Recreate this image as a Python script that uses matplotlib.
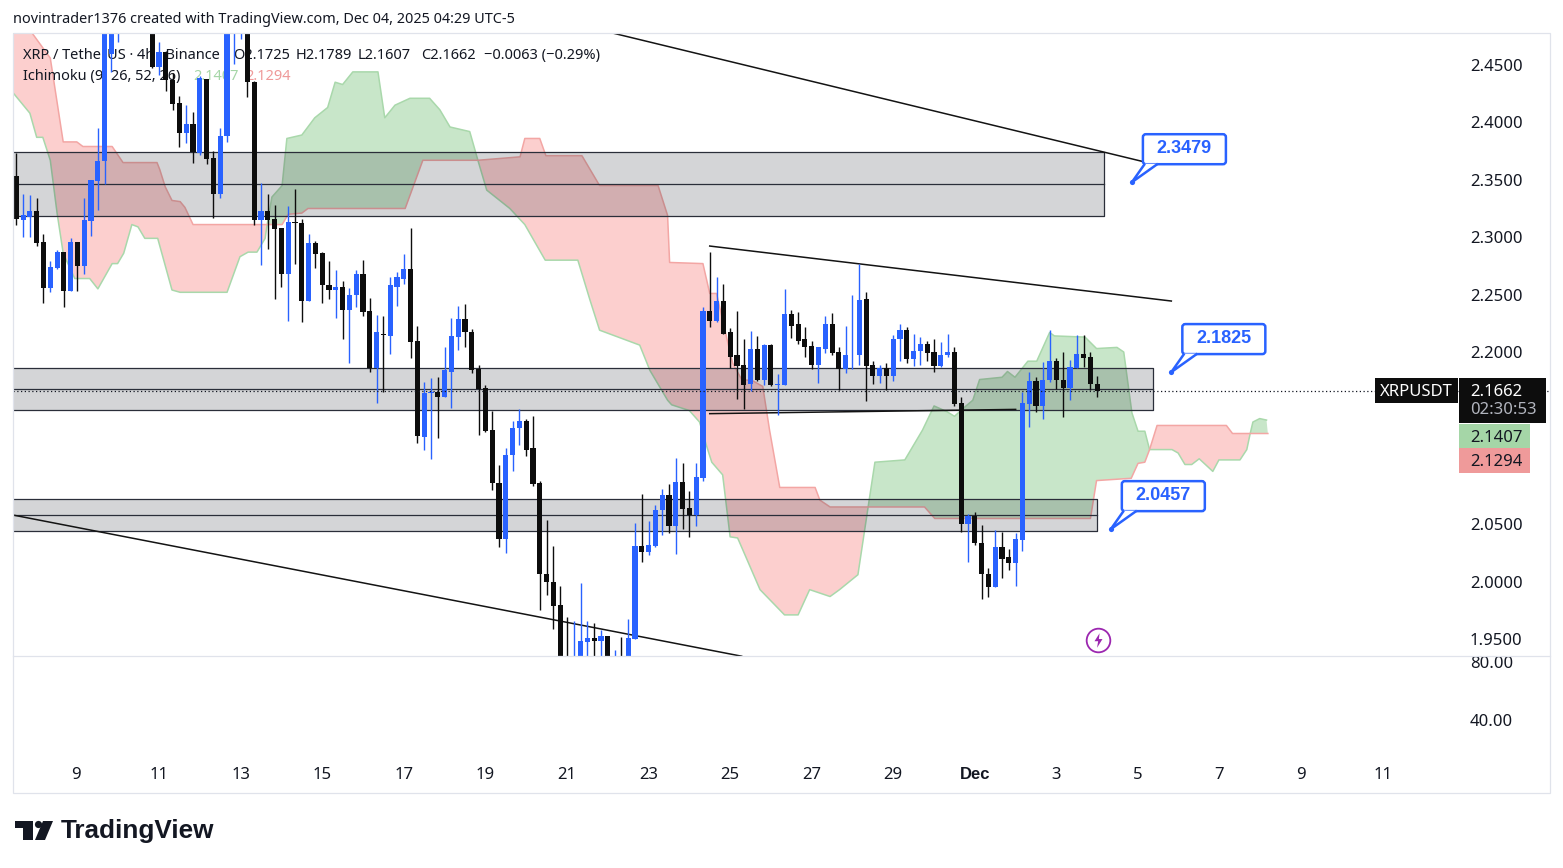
import matplotlib
matplotlib.use('Agg')
import matplotlib.pyplot as plt
import numpy as np
from matplotlib.patches import FancyBboxPatch, Polygon, Rectangle
from matplotlib.transforms import IdentityTransform

# 4h candles, bar 0 is the first one on screen
opens = [2.353, 2.315, 2.318, 2.323, 2.296, 2.256, 2.273, 2.287, 2.253, 2.296,
         2.275, 2.314, 2.349, 2.366, 2.460, 2.49, 2.51, 2.53, 2.51, 2.52,
         2.50, 2.448, 2.461, 2.437, 2.417, 2.391, 2.399, 2.373, 2.438, 2.369,
         2.338, 2.388, 2.485, 2.49, 2.50, 2.435, 2.315, 2.323, 2.316, 2.308,
         2.268, 2.313, 2.312, 2.244, 2.295, 2.286, 2.258, 2.254, 2.257, 2.237,
         2.250, 2.268, 2.236, 2.186, 2.216, 2.214, 2.257, 2.264, 2.272, 2.210,
         2.126, 2.164, 2.165, 2.161, 2.183, 2.213, 2.229, 2.217, 2.185, 2.169,
         2.132, 2.086, 2.037, 2.110, 2.134, 2.140, 2.116, 2.086, 2.007, 2.000,
         1.980, 1.930, 1.920, 1.925, 1.947, 1.951, 1.948, 1.953, 1.920, 1.930,
         1.925, 1.950, 2.031, 2.026, 2.031, 2.062, 2.075, 2.048, 2.087, 2.064,
         2.058, 2.090, 2.236, 2.227, 2.244, 2.217, 2.197, 2.189, 2.172, 2.203,
         2.176, 2.206, 2.171, 2.171, 2.233, 2.224, 2.211, 2.205, 2.189, 2.203,
         2.224, 2.200, 2.185, 2.197, 2.197, 2.246, 2.189, 2.179, 2.186, 2.179,
         2.211, 2.219, 2.194, 2.201, 2.207, 2.200, 2.188, 2.197, 2.200, 2.156,
         2.050, 2.057, 2.034, 2.007, 1.995, 2.030, 2.021, 2.016, 2.036, 2.155,
         2.175, 2.153, 2.176, 2.192, 2.176, 2.169, 2.186, 2.198, 2.196, 2.1725]
highs = [2.373, 2.338, 2.337, 2.334, 2.303, 2.279, 2.289, 2.287, 2.299, 2.296,
         2.334, 2.350, 2.395, 2.50, 2.53, 2.52, 2.54, 2.55, 2.53, 2.53,
         2.52, 2.470, 2.462, 2.443, 2.423, 2.415, 2.409, 2.440, 2.438, 2.375,
         2.395, 2.50, 2.51, 2.51, 2.51, 2.436, 2.347, 2.338, 2.328, 2.308,
         2.327, 2.342, 2.316, 2.303, 2.297, 2.287, 2.279, 2.271, 2.262, 2.256,
         2.271, 2.280, 2.247, 2.232, 2.231, 2.265, 2.270, 2.285, 2.308, 2.223,
         2.174, 2.177, 2.178, 2.204, 2.230, 2.240, 2.242, 2.220, 2.189, 2.171,
         2.149, 2.102, 2.116, 2.140, 2.150, 2.142, 2.144, 2.088, 2.054, 2.031,
         1.996, 1.969, 1.966, 1.999, 1.966, 1.964, 1.958, 1.953, 1.940, 1.952,
         1.967, 2.051, 2.076, 2.053, 2.067, 2.081, 2.085, 2.108, 2.103, 2.079,
         2.103, 2.2395, 2.287, 2.265, 2.259, 2.221, 2.236, 2.211, 2.218, 2.214,
         2.207, 2.207, 2.181, 2.255, 2.237, 2.235, 2.222, 2.210, 2.204, 2.231,
         2.234, 2.204, 2.223, 2.250, 2.277, 2.252, 2.192, 2.189, 2.190, 2.215,
         2.224, 2.222, 2.216, 2.213, 2.210, 2.211, 2.209, 2.216, 2.204, 2.161,
         2.059, 2.061, 2.049, 2.012, 2.045, 2.043, 2.028, 2.042, 2.165, 2.183,
         2.178, 2.191, 2.219, 2.195, 2.200, 2.193, 2.215, 2.215, 2.200, 2.1789]
lows = [2.311, 2.300, 2.300, 2.292, 2.243, 2.252, 2.272, 2.239, 2.253, 2.253,
        2.268, 2.301, 2.324, 2.346, 2.444, 2.470, 2.49, 2.50, 2.495, 2.49,
        2.447, 2.441, 2.427, 2.411, 2.379, 2.382, 2.365, 2.372, 2.364, 2.317,
        2.334, 2.383, 2.451, 2.473, 2.422, 2.311, 2.276, 2.290, 2.246, 2.257,
        2.227, 2.277, 2.226, 2.244, 2.273, 2.243, 2.246, 2.230, 2.211, 2.190,
        2.239, 2.231, 2.183, 2.156, 2.165, 2.198, 2.240, 2.259, 2.195, 2.121,
        2.115, 2.107, 2.125, 2.161, 2.151, 2.202, 2.204, 2.182, 2.128, 2.130,
        2.080, 2.030, 2.025, 2.096, 2.119, 2.109, 2.083, 1.975, 1.988, 1.959,
        1.92, 1.91, 1.91, 1.92, 1.925, 1.925, 1.925, 1.92, 1.91, 1.915,
        1.92, 1.950, 2.017, 2.023, 2.030, 2.041, 2.042, 2.024, 2.046, 2.039,
        2.048, 2.088, 2.222, 2.226, 2.216, 2.186, 2.159, 2.150, 2.166, 2.175,
        2.171, 2.170, 2.145, 2.171, 2.212, 2.207, 2.196, 2.185, 2.173, 2.199,
        2.197, 2.167, 2.182, 2.185, 2.189, 2.157, 2.172, 2.173, 2.167, 2.175,
        2.192, 2.190, 2.188, 2.189, 2.192, 2.183, 2.187, 2.196, 2.153, 2.043,
        2.017, 2.032, 1.985, 1.987, 1.995, 2.003, 2.010, 1.996, 2.027, 2.135,
        2.148, 2.142, 2.174, 2.168, 2.143, 2.158, 2.186, 2.187, 2.167, 2.1607]
closes = [2.316, 2.319, 2.323, 2.295, 2.256, 2.274, 2.287, 2.253, 2.296, 2.275,
          2.315, 2.350, 2.366, 2.488, 2.52, 2.51, 2.53, 2.51, 2.52, 2.50,
          2.448, 2.461, 2.437, 2.416, 2.391, 2.399, 2.374, 2.439, 2.368, 2.338,
          2.388, 2.49, 2.50, 2.50, 2.435, 2.315, 2.323, 2.315, 2.307, 2.268,
          2.313, 2.312, 2.244, 2.295, 2.285, 2.258, 2.254, 2.257, 2.237, 2.250,
          2.268, 2.235, 2.186, 2.217, 2.215, 2.258, 2.265, 2.272, 2.209, 2.127,
          2.164, 2.165, 2.161, 2.184, 2.214, 2.229, 2.217, 2.184, 2.168, 2.131,
          2.086, 2.037, 2.110, 2.134, 2.140, 2.115, 2.085, 2.007, 2.000, 1.979,
          1.93, 1.92, 1.93, 1.948, 1.951, 1.948, 1.953, 1.925, 1.93, 1.92,
          1.951, 2.031, 2.026, 2.032, 2.062, 2.075, 2.048, 2.087, 2.063, 2.058,
          2.091, 2.236, 2.227, 2.244, 2.216, 2.196, 2.188, 2.171, 2.203, 2.176,
          2.206, 2.171, 2.172, 2.233, 2.223, 2.210, 2.204, 2.189, 2.204, 2.224,
          2.199, 2.185, 2.197, 2.1975, 2.245, 2.188, 2.179, 2.186, 2.179, 2.211,
          2.219, 2.194, 2.201, 2.207, 2.199, 2.188, 2.197, 2.200, 2.155, 2.050,
          2.057, 2.034, 2.007, 1.995, 2.030, 2.020, 2.016, 2.037, 2.156, 2.175,
          2.153, 2.176, 2.192, 2.176, 2.169, 2.187, 2.198, 2.195, 2.172, 2.1662]

# ichimoku cloud edges, read at the corners of each line
span_a_bar = [-0.5, 2, 3, 3.9, 5, 6, 6.9, 8.6, 10.8, 12, 14.1, 14.9, 15.8, 17, 17.9, 18.9, 20.8,
              22.9, 24.1, 31, 32.9, 34.1, 35.4, 36.6, 36.9, 37.6, 39.1, 39.8, 42, 43.9, 45.8,
              46.9, 48, 49.5, 53.2, 54.2, 55.7, 57.9, 60.8, 62.3, 63.8, 66.7, 67.9, 69.2, 72.6,
              74.8, 77.8, 82.6, 84.4, 85.8, 91.7, 93.2, 95.8, 96.4, 99, 100.5, 101.6, 102.3,
              103.9, 105, 106.1, 106.4, 109.4, 113, 115, 116.7, 119.7, 121.1, 123.8, 125.3,
              126.3, 130.7, 133.3, 135, 136.9, 138, 139.5, 140.7, 141.7, 145, 145.8, 146.9,
              148.8, 150.1, 152, 152.7, 157.2, 158.9, 161.9, 162.9, 164.1, 165, 166, 166.7,
              170, 170.9, 171.9, 172.9, 174, 176, 176.9, 180, 181, 181.5, 181.9, 182.9, 183.9]
span_a = [2.426, 2.408, 2.387, 2.387, 2.367, 2.321, 2.286, 2.264, 2.264, 2.255, 2.277, 2.277,
          2.286, 2.311, 2.309, 2.299, 2.299, 2.254, 2.252, 2.252, 2.283, 2.287, 2.287, 2.299,
          2.311, 2.335, 2.345, 2.386, 2.389, 2.404, 2.413, 2.435, 2.433, 2.444, 2.444, 2.404,
          2.415, 2.421, 2.421, 2.411, 2.396, 2.392, 2.367, 2.341, 2.325, 2.311, 2.280, 2.280,
          2.245, 2.219, 2.206, 2.184, 2.158, 2.154, 2.149, 2.139, 2.117, 2.104, 2.093, 2.039,
          2.038, 2.034, 1.993, 1.971, 1.971, 1.993, 1.987, 1.993, 2.006, 2.065, 2.104, 2.106,
          2.132, 2.153, 2.148, 2.144, 2.152, 2.158, 2.176, 2.178, 2.183, 2.178, 2.192, 2.192,
          2.217, 2.214, 2.213, 2.203, 2.204, 2.200, 2.147, 2.131, 2.131, 2.115, 2.115, 2.112,
          2.102, 2.102, 2.107, 2.096, 2.106, 2.106, 2.115, 2.129, 2.139, 2.142, 2.1407]
span_b_bar = [-1, 2.3, 5, 6.9, 8.9, 9.8, 14.1, 15.7, 20.7, 21.1, 21.9, 22.9, 24.1, 24.8, 26,
              36.9, 39.1, 40, 42, 42.9, 57.2, 59.8, 67.9, 74.1, 74.8, 77, 77.9, 83.2, 85.8,
              94.4, 95.8, 96.1, 101, 102, 103, 104.9, 105.4, 106.7, 108.3, 109.8, 110.8, 112.3,
              117.5, 118.2, 119.7, 125.3, 133.6, 135.1, 158, 158.9, 164, 165, 166, 166.7, 167.8,
              178, 178.9, 181.5, 184.1]
span_b = [2.52, 2.478, 2.456, 2.383, 2.383, 2.379, 2.379, 2.365, 2.365, 2.359, 2.344, 2.332,
          2.331, 2.326, 2.311, 2.311, 2.311, 2.320, 2.321, 2.325, 2.325, 2.367, 2.367, 2.370,
          2.386, 2.386, 2.371, 2.371, 2.345, 2.345, 2.319, 2.278, 2.277, 2.251, 2.251, 2.202,
          2.190, 2.176, 2.175, 2.170, 2.132, 2.082, 2.082, 2.071, 2.065, 2.065, 2.065, 2.055,
          2.055, 2.088, 2.090, 2.103, 2.104, 2.115, 2.136, 2.136, 2.129, 2.129, 2.129]
# bars where the two edges cross, the cloud colour flips there
cloud_cross = [-1, 36.9, 67.9, 125.3, 166.7, 181.5, 184.1]

zone_top = [2.374, 2.186, 2.072]
zone_mid = [2.346, 2.168, 2.058]
zone_bottom = [2.3185, 2.1495, 2.044]
zone_end = [160, 167.2, 158.9]

# trend lines: start bar, start price, end bar, end price
trend_x0 = [87.6, 102, 102, -0.5]
trend_y0 = [2.478, 2.2923, 2.1463, 2.058]
trend_x1 = [166, 169.9, 147, 106.7]
trend_y1 = [2.3655, 2.2444, 2.150, 1.935]

callout_bar = [164.1, 169.9, 161]
callout_price = [2.3479, 2.1825, 2.0457]

price_ticks = [1.95, 2.0, 2.05, 2.2, 2.25, 2.3, 2.35, 2.4, 2.45]
lower_ticks = [40, 80]
time_bars = [8.8, 21, 33, 45, 57, 69, 81, 93, 105, 117, 129, 141, 153, 165, 176.9, 189, 201]
time_labels = ['9', '11', '13', '15', '17', '19', '21', '23', '25', '27', '29', 'Dec', '3', '5', '7', '9', '11']

last_price = 2.1662
W, H = 1563, 868
UP = '#2962ff'
DOWN = '#0d0d0d'
INK = '#131722'
BORDER = '#e0e3eb'

plt.rcParams['font.family'] = ['Noto Sans', 'DejaVu Sans']

fig = plt.figure(figsize=(W / 100, H / 100), dpi=100, facecolor='white')


def pane(top, bottom):
    return fig.add_axes([13 / W, 1 - bottom / H, 1537 / W, (bottom - top) / H])


def label(x, y, s, color=INK, size=12, ha='left', weight='normal', family=None, z=6):
    # text sits a bit high with va=center, so push it down
    t = fig.text(x / W, 1 - (y + 1.5) / H, s, color=color, fontsize=size, ha=ha, va='center',
                 fontweight=weight, zorder=z)
    if family:
        t.set_family(family)
    return t


def under(x, y, s, color=INK):
    # legend text goes inside the pane so the candles paint over it
    ax.text(x / W, 1 - (y + 1.5) / H, s, transform=fig.transFigure, color=color, fontsize=10.5,
            va='center', zorder=1.6)


def box(x0, y0, x1, y1, color):
    fig.add_artist(Rectangle((x0, H - y1), x1 - x0, y1 - y0, facecolor=color, edgecolor='none',
                             transform=IdentityTransform(), zorder=5))


ax = pane(33, 656)
low = pane(656, 755)
xlim = (-0.485, 225.6)
ax.set_xlim(xlim)
ax.set_ylim(2.2 - 304 / 1148, 2.2 + 319 / 1148)
low.set_xlim(xlim)
low.set_ylim(15.9, 84.1)

# cloud
a_bar, a_val = np.array(span_a_bar), np.array(span_a)
b_bar, b_val = np.array(span_b_bar), np.array(span_b)
for n in range(len(cloud_cross) - 1):
    c0, c1 = cloud_cross[n], cloud_cross[n + 1]
    a_in = (a_bar >= c0) & (a_bar <= c1)
    b_in = (b_bar >= c0) & (b_bar <= c1)
    xs = np.r_[a_bar[a_in], b_bar[b_in][::-1]]
    ys = np.r_[a_val[a_in], b_val[b_in][::-1]]
    ax.fill(xs, ys, color='#fccfce' if n % 2 == 0 else '#c8e6c9', lw=0, zorder=1)
ax.plot(span_a_bar, span_a, color='#a9d8ab', lw=1.1, zorder=1.5)
ax.plot(span_b_bar, span_b, color='#f3a6a4', lw=1.1, zorder=1.5)

under(23, 54, 'XRP / TetherUS · 4h · Binance')
for lx, s in zip([233, 296, 358, 421, 484], ['O2.1725', 'H2.1789', 'L2.1607', 'C2.1662', '−0.0063 (−0.29%)']):
    under(lx, 54, s)
under(23, 75, 'Ichimoku (9, 26, 52, 26)')
under(193, 75, '2.1407', '#a5d6a7')
under(245, 75, '2.1294', '#ef9a9a')

# grey zones
for top, mid, bottom, end in zip(zone_top, zone_mid, zone_bottom, zone_end):
    ax.fill_between([-1, end], bottom, top, color='#2a2e39', alpha=0.2, lw=0, zorder=2)
    ax.plot([-1, end, end, -1], [top, top, bottom, bottom], color='#2a2e39', lw=0.9, zorder=2.1)
    ax.plot([-1, end], [mid, mid], color='#2a2e39', lw=0.9, zorder=2.1)

# trend lines
for x0, y0, x1, y1 in zip(trend_x0, trend_y0, trend_x1, trend_y1):
    ax.plot([x0, x1], [y0, y1], color='#131313', lw=1.1, zorder=2.5)

# candles
bars = np.arange(len(opens))
o, h, l, c = map(np.array, (opens, highs, lows, closes))
colors = np.where(c >= o, UP, DOWN)
ax.vlines(bars, l, h, colors=colors, lw=1.0, zorder=3)
ax.bar(bars, np.abs(c - o), bottom=np.minimum(o, c), width=0.76, color=colors, lw=0, zorder=3.1)

# last price
ax.plot(xlim, [last_price, last_price], color='#131722', lw=0.9, ls=(0, (1, 2)), zorder=3.5)

# lightning mark
ax.scatter([159.1], [1.949], s=290, facecolor='white', edgecolor='#9c27b0', lw=1.3, zorder=4)
bolt = [(0.15, 1), (-0.55, -0.1), (-0.05, -0.1), (-0.2, -1), (0.55, 0.2), (0.05, 0.2), (0.15, 1)]
ax.scatter([159.1], [1.949], s=110, marker=bolt, color='#9c27b0', lw=0, zorder=4.1)

# callouts
for bar, price in zip(callout_bar, callout_price):
    dx, dy = ax.transData.transform((bar, price))
    ax.scatter([bar], [price], s=14, color=UP, lw=0, zorder=7)
    fig.add_artist(FancyBboxPatch((dx + 11, dy + 18), 83, 30, boxstyle='round,pad=0,rounding_size=3',
                                  facecolor='white', edgecolor=UP, lw=1.8,
                                  transform=IdentityTransform(), zorder=5))
    fig.add_artist(Polygon([(dx + 13, dy + 18.5), (dx, dy), (dx + 26, dy + 18.5)], closed=False,
                           facecolor='white', edgecolor=UP, lw=1.8,
                           transform=IdentityTransform(), zorder=5.1))
    t = fig.text((dx + 52.5) / W, (dy + 34) / H, '%.4f' % price, color=UP, fontsize=13, fontweight='bold',
                 ha='center', va='center', zorder=6)
    t.set_family('Liberation Sans')

# axes dressing
for a in (ax, low):
    a.set_facecolor('white')
    a.spines[:].set_visible(False)
    a.yaxis.tick_right()
    a.tick_params(axis='y', length=0, pad=-57.6, labelsize=12, labelcolor=INK)
ax.set_yticks(price_ticks, ['%.4f' % v for v in price_ticks])
ax.set_xticks([])
low.set_yticks(lower_ticks, ['%.2f' % v for v in lower_ticks])
low.set_xticks(time_bars, time_labels)
low.tick_params(axis='x', length=0, pad=8.5, labelsize=12, labelcolor=INK)
for t, s in zip(low.get_xticklabels(), time_labels):
    if s == 'Dec':
        t.set_family('Liberation Sans')
        t.set_fontweight('bold')
low.spines['top'].set_visible(True)
low.spines['top'].set_color(BORDER)
low.spines['top'].set_linewidth(0.9)

# outer frame and header
fig.add_artist(Rectangle((13, H - 793), 1537, 760, fill=False, edgecolor=BORDER, lw=0.9,
                         transform=IdentityTransform(), zorder=4))
label(13, 18, 'novintrader1376 created with TradingView.com, Dec 04, 2025 04:29 UTC-5', size=10.4)

# price labels on the right
box(1375, 378, 1458, 403, '#0d0d0d')
box(1459, 378, 1546, 423, '#0d0d0d')
box(1459, 424, 1530, 448, '#a5d6a7')
box(1459, 448, 1530, 473, '#ef9a9a')
label(1416.5, 390, 'XRPUSDT', color='white', ha='center', size=12)
label(1470, 390, '2.1662', color='white', size=12)
label(1470, 409, '02:30:53', color='#b2b5be', size=12)
label(1470, 436, '2.1407', size=12)
label(1470, 460, '2.1294', size=12)

# TradingView logo
box(15, 821, 33, 827.5, INK)
box(23, 827.5, 33, 840, INK)
fig.add_artist(Polygon([(43, H - 821), (53, H - 821), (45, H - 840), (35, H - 840)], facecolor=INK,
                       edgecolor='none', transform=IdentityTransform(), zorder=5))
fig.add_artist(plt.Circle((38.5, H - 824.5), 3.6, facecolor=INK, edgecolor='none',
                          transform=IdentityTransform(), zorder=5))
label(61, 829.5, 'TradingView', size=18.8, weight='bold', family='Liberation Sans')

fig.savefig('out.png', dpi=100)
